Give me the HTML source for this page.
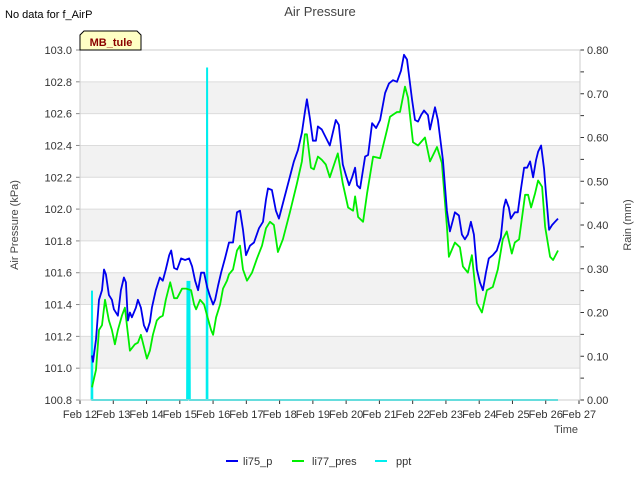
<!DOCTYPE html>
<html><head><meta charset="utf-8">
<style>
body{margin:0;background:#fff;}
svg{display:block;font-family:"Liberation Sans","DejaVu Sans",sans-serif;}
</style></head>
<body>
<svg id="chart" width="640" height="480" viewBox="0 0 640 480">
  <rect x="0" y="0" width="640" height="480" fill="#fff"/>
  <g id="bands"></g>
  <g id="grid"></g>
  <g id="series"></g>
  <g id="axes"></g>
  <text x="5" y="18" font-size="11" fill="#000">No data for f_AirP</text>
  <text x="320" y="16" font-size="13" fill="#444" text-anchor="middle">Air Pressure</text>
  <g>
    <path d="M80,50 L80,35 L84,31 L137,31 L141,35 L141,50 Z" fill="#ffffc4" stroke="#000" stroke-width="1"/>
    <text x="111" y="46" font-size="11" font-weight="bold" fill="#8b0000" text-anchor="middle">MB_tule</text>
  </g>
  <text transform="translate(18,225) rotate(-90)" font-size="11" fill="#444" text-anchor="middle">Air Pressure (kPa)</text>
  <text transform="translate(631,225) rotate(-90)" font-size="11" fill="#444" text-anchor="middle">Rain (mm)</text>
  <text x="566" y="433" font-size="11" fill="#444" text-anchor="middle">Time</text>
  <g>
    <g><line x1="226" y1="461" x2="238" y2="461" stroke="#0000ee" stroke-width="2"/><text x="243" y="465" font-size="11" fill="#333">li75_p</text></g>
    <g><line x1="292" y1="461" x2="304" y2="461" stroke="#00ee00" stroke-width="2"/><text x="312" y="465" font-size="11" fill="#333">li77_pres</text></g>
    <g><line x1="375" y1="461" x2="387" y2="461" stroke="#00eeee" stroke-width="2"/><text x="396" y="465" font-size="11" fill="#333">ppt</text></g>
  </g>
</svg>
<script>
const xTickLabels = ["Feb 12","Feb 13","Feb 14","Feb 15","Feb 16","Feb 17","Feb 18","Feb 19","Feb 20","Feb 21","Feb 22","Feb 23","Feb 24","Feb 25","Feb 26","Feb 27"];
const yTicks = [100.8,101.0,101.2,101.4,101.6,101.8,102.0,102.2,102.4,102.6,102.8,103.0];
const y2Ticks = [0,0.1,0.2,0.3,0.4,0.5,0.6,0.7,0.8];
const li75Days = [0.36,0.39,0.48,0.57,0.66,0.72,0.78,0.87,0.96,1.02,1.14,1.23,1.32,1.38,1.44,1.50,1.56,1.68,1.74,1.83,1.92,2.01,2.10,2.16,2.28,2.40,2.49,2.58,2.68,2.74,2.83,2.92,3.04,3.16,3.28,3.37,3.46,3.55,3.64,3.73,3.82,3.91,4.00,4.06,4.15,4.24,4.36,4.48,4.60,4.72,4.81,4.90,4.99,5.11,5.23,5.38,5.50,5.59,5.65,5.77,5.89,5.98,6.13,6.28,6.43,6.55,6.67,6.76,6.82,6.91,7.00,7.09,7.15,7.27,7.39,7.51,7.69,7.78,7.90,8.00,8.09,8.18,8.27,8.33,8.42,8.57,8.66,8.78,8.90,9.02,9.17,9.29,9.41,9.53,9.65,9.74,9.83,9.98,10.07,10.16,10.25,10.34,10.46,10.52,10.67,10.76,10.91,11.03,11.12,11.21,11.27,11.39,11.48,11.57,11.66,11.75,11.84,11.93,12.02,12.11,12.20,12.29,12.41,12.53,12.65,12.74,12.80,12.89,12.95,13.07,13.16,13.25,13.35,13.44,13.53,13.62,13.71,13.77,13.86,13.95,14.01,14.10,14.19,14.28,14.37];
const li75Values = [101.08,101.04,101.18,101.43,101.49,101.62,101.59,101.46,101.43,101.37,101.33,101.49,101.57,101.54,101.30,101.35,101.32,101.38,101.43,101.38,101.27,101.23,101.29,101.38,101.49,101.57,101.55,101.62,101.71,101.74,101.63,101.62,101.69,101.68,101.69,101.64,101.55,101.49,101.60,101.60,101.51,101.45,101.40,101.43,101.52,101.60,101.69,101.79,101.79,101.98,101.99,101.87,101.71,101.77,101.79,101.88,101.92,102.06,102.13,102.12,101.99,101.94,102.06,102.18,102.30,102.37,102.48,102.61,102.69,102.57,102.43,102.43,102.52,102.50,102.45,102.40,102.56,102.53,102.28,102.21,102.15,102.20,102.26,102.15,102.13,102.33,102.34,102.54,102.51,102.56,102.73,102.79,102.81,102.80,102.87,102.97,102.94,102.69,102.56,102.55,102.59,102.62,102.59,102.50,102.64,102.56,102.31,101.99,101.86,101.93,101.98,101.96,101.84,101.81,101.84,101.92,101.84,101.62,101.54,101.49,101.60,101.69,101.71,101.74,101.82,102.01,102.06,102.01,101.94,101.98,101.98,102.12,102.26,102.26,102.30,102.20,102.31,102.36,102.40,102.25,102.09,101.87,101.90,101.92,101.94];
const li77Days = [0.36,0.48,0.57,0.66,0.75,0.87,0.96,1.05,1.14,1.26,1.35,1.41,1.50,1.65,1.74,1.83,1.95,2.01,2.10,2.19,2.31,2.40,2.49,2.58,2.71,2.83,2.92,3.07,3.19,3.34,3.43,3.49,3.61,3.73,3.82,3.94,4.00,4.09,4.21,4.30,4.42,4.48,4.60,4.72,4.81,4.90,5.02,5.17,5.32,5.47,5.59,5.71,5.83,5.95,6.10,6.31,6.52,6.67,6.76,6.82,6.94,7.03,7.15,7.27,7.39,7.51,7.75,7.90,8.06,8.21,8.27,8.36,8.51,8.63,8.81,9.02,9.23,9.32,9.53,9.62,9.77,9.86,10.01,10.16,10.37,10.52,10.73,10.88,11.03,11.09,11.27,11.42,11.51,11.66,11.78,11.93,12.08,12.23,12.41,12.56,12.71,12.83,12.98,13.07,13.20,13.29,13.38,13.47,13.56,13.68,13.77,13.89,13.98,14.13,14.22,14.37];
const li77Values = [100.88,100.99,101.24,101.27,101.43,101.30,101.24,101.15,101.24,101.33,101.38,101.27,101.11,101.15,101.16,101.21,101.11,101.06,101.11,101.21,101.30,101.32,101.33,101.43,101.54,101.44,101.44,101.50,101.50,101.49,101.40,101.37,101.43,101.40,101.33,101.24,101.21,101.32,101.40,101.50,101.55,101.59,101.62,101.74,101.77,101.62,101.55,101.60,101.69,101.77,101.88,101.92,101.90,101.73,101.81,101.98,102.16,102.30,102.47,102.47,102.26,102.25,102.33,102.31,102.28,102.20,102.35,102.16,102.01,101.99,102.08,101.95,101.92,102.10,102.33,102.32,102.50,102.58,102.61,102.61,102.77,102.70,102.42,102.40,102.45,102.30,102.39,102.29,101.89,101.70,101.79,101.76,101.64,101.60,101.71,101.41,101.35,101.49,101.51,101.62,101.81,101.86,101.72,101.79,101.81,101.95,102.09,102.09,102.01,102.10,102.18,102.14,101.89,101.70,101.68,101.74];
const pptDays = [0.35,0.36,0.37,3.22,3.23,3.25,3.26,3.28,3.29,3.30,3.31,3.81,3.82,3.83,14.37];
const pptValues = [0,0.25,0,0,0.27,0.27,0,0.27,0.27,0,0,0,0.76,0,0];

const NS = "http://www.w3.org/2000/svg";
const L = 80, R = 580, T = 50, B = 400;
const xScale = d => L + d * (R - L - 1) / 15;
const yScale = v => B - (v - 100.8) * (B - T) / 2.2;
const y2Scale = v => B - v * (B - T) / 0.8;
function mk(tag, attrs, parent) {
  const e = document.createElementNS(NS, tag);
  for (const k in attrs) e.setAttribute(k, attrs[k]);
  parent.appendChild(e);
  return e;
}
const bands = document.getElementById('bands'), grid = document.getElementById('grid'),
      series = document.getElementById('series'), axes = document.getElementById('axes');
for (let i = 0; i < yTicks.length - 1; i++) {
  if (i % 2 === 1) {
    const r = mk('rect', {x: L, y: yScale(yTicks[i + 1]), width: R - L, height: yScale(yTicks[i]) - yScale(yTicks[i + 1]), fill: '#f2f2f2'}, bands);
    
    
  }
}
yTicks.forEach(v => {
  const y = yScale(v);
  const g = mk('line', {x1: L, x2: R, y1: y, y2: y, stroke: '#dcdcdc', 'stroke-width': 1}, grid);
  
  
  const t = mk('text', {x: L - 8, y: y + 4, 'font-size': 11, fill: '#333', 'text-anchor': 'end'}, axes);
  t.textContent = v.toFixed(1);
  
  
  mk('line', {x1: L - 4, x2: L, y1: y, y2: y, stroke: '#888'}, axes);
});
for (let k = 0; k <= 16; k++) {
  const y = y2Scale(k * 0.05);
  mk('line', {x1: R, x2: R + 4, y1: y, y2: y, stroke: '#333'}, axes);
}
y2Ticks.forEach(v => {
  const y = y2Scale(v);
  const t = mk('text', {x: R + 7, y: y + 4, 'font-size': 11, fill: '#333'}, axes);
  t.textContent = v.toFixed(2);
  
  
});
xTickLabels.forEach((lab, i) => {
  const x = xScale(i);
  mk('line', {x1: x, x2: x, y1: B, y2: B + 4, stroke: '#333'}, axes);
  const t = mk('text', {x: x, y: B + 18, 'font-size': 11, fill: '#333', 'text-anchor': 'middle'}, axes);
  t.textContent = lab;
  
  
});
mk('rect', {x: L, y: T, width: R - L, height: B - T, fill: 'none', stroke: '#ccc'}, axes);
function path(days, vals, sc) {
  return days.map((d, i) => (i ? 'L' : 'M') + xScale(d).toFixed(1) + ',' + sc(vals[i]).toFixed(1)).join(' ');
}
const pp = mk('path', {d: path(pptDays, pptValues, y2Scale), fill: 'none', stroke: '#00eeee', 'stroke-width': 2}, series);


const gp = mk('path', {d: path(li77Days, li77Values, yScale), fill: 'none', stroke: '#00ee00', 'stroke-width': 1.8, 'stroke-linejoin': 'round'}, series);


const bp = mk('path', {d: path(li75Days, li75Values, yScale), fill: 'none', stroke: '#0000ee', 'stroke-width': 1.8, 'stroke-linejoin': 'round'}, series);


</script>
</body></html>
